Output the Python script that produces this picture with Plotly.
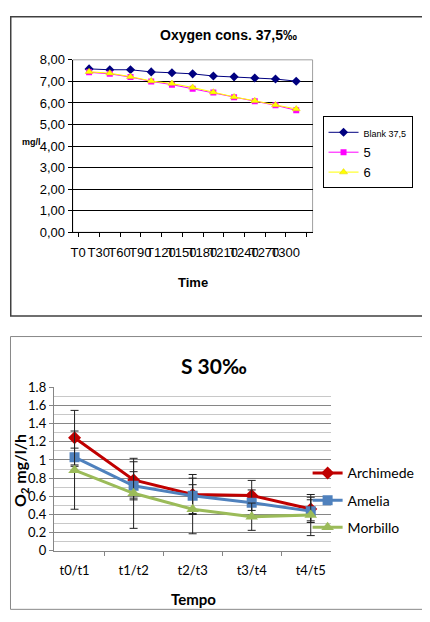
import plotly.graph_objects as go

# ==============================
# Data: top chart (Oxygen cons. 37,5‰)
# ==============================

times = ["T0", "T30", "T60", "T90", "T120", "T150", "T180", "T210", "T240", "T270", "T300"]
blank_375 = [7.58, 7.54, 7.54, 7.44, 7.40, 7.35, 7.25, 7.21, 7.16, 7.11, 7.01]
sample_5 = [7.42, 7.35, 7.20, 7.00, 6.85, 6.66, 6.48, 6.26, 6.08, 5.89, 5.66]
sample_6 = [7.45, 7.38, 7.22, 7.02, 6.90, 6.72, 6.50, 6.28, 6.10, 5.91, 5.72]
mg_ticks = [0, 1, 2, 3, 4, 5, 6, 7, 8]
mg_labels = [f"{v:.2f}".replace(".", ",") for v in mg_ticks]

# ==============================
# Data: bottom chart (S 30‰)
# ==============================

periods = ["t0/t1", "t1/t2", "t2/t3", "t3/t4", "t4/t5"]
archimede = [1.245, 0.78, 0.62, 0.61, 0.46]
archimede_err = [0.30, 0.20, 0.22, 0.165, 0.13]
amelia = [1.03, 0.716, 0.605, 0.53, 0.437]
amelia_err = [0.10, 0.155, 0.195, 0.14, 0.125]
morbillo = [0.888, 0.633, 0.458, 0.376, 0.394]
morbillo_err = [0.43, 0.385, 0.27, 0.15, 0.226]

W, H = 430, 622
OFF = 8  # page body margin: the figure lands 8px right/down in the window


def px_x(x):
    # x given in window pixels
    return (x - OFF) / W


def px_y(y):
    # y given in window pixels, from the top
    return 1 - (y - OFF) / H


fig = go.Figure()

# top chart traces
fig.add_trace(go.Scatter(x=times, y=blank_375, name="<span style='font-size:9px'>Blank 37,5</span>",
                         mode="lines+markers", line=dict(color="#000080", width=1),
                         marker=dict(symbol="diamond", size=7, color="#000080"),
                         xaxis="x", yaxis="y", legend="legend"))
fig.add_trace(go.Scatter(x=times, y=sample_5, name="5", mode="lines+markers",
                         line=dict(color="#FF00FF", width=1),
                         marker=dict(symbol="square", size=6, color="#FF00FF"),
                         xaxis="x", yaxis="y", legend="legend"))
fig.add_trace(go.Scatter(x=times, y=sample_6, name="6", mode="lines+markers",
                         line=dict(color="#FFFF00", width=1),
                         marker=dict(symbol="triangle-up", size=7, color="#FFFF00",
                                     line=dict(color="#E0D000", width=0.5)),
                         xaxis="x", yaxis="y", legend="legend"))

# bottom chart traces
err_style = dict(type="data", symmetric=True, color="#202020", thickness=1, width=4)
for name, vals, errs, color, symbol, size in [
    ("Archimede", archimede, archimede_err, "#C00000", "diamond", 10),
    ("Amelia", amelia, amelia_err, "#4F81BD", "square", 10),
    ("Morbillo", morbillo, morbillo_err, "#9BBB59", "triangle-up", 11),
]:
    fig.add_trace(go.Scatter(x=periods, y=vals, name=name, mode="lines+markers",
                             line=dict(color=color, width=3),
                             marker=dict(symbol=symbol, size=size, color=color),
                             error_y=dict(array=errs, **err_style),
                             xaxis="x2", yaxis="y2", legend="legend2", legendgroup=name))

top_font = "Liberation Sans, Arial, sans-serif"
bot_font = "Lato, Calibri, sans-serif"

fig.update_layout(
    width=W, height=H,
    margin=dict(l=0, r=0, t=0, b=0),
    paper_bgcolor="white", plot_bgcolor="white",
    xaxis=dict(domain=[px_x(71), px_x(312)], type="category", showgrid=False,
               showline=True, linecolor="black", linewidth=1,
               ticks="outside", tickson="boundaries", ticklen=4, tickcolor="black",
               tickangle=0, tickfont=dict(family=top_font, size=13, color="black"),
               ticklabelshift=-11, ticklabelstandoff=8, anchor="y", fixedrange=True),
    yaxis=dict(domain=[px_y(230), px_y(53)], range=[0, 8], tickvals=mg_ticks, ticktext=mg_labels,
               showgrid=True, gridcolor="black", gridwidth=1,
               showline=True, linecolor="black", linewidth=1,
               ticks="outside", ticklen=4, tickcolor="black",
               tickfont=dict(family=top_font, size=13, color="black"),
               zeroline=False, anchor="x", fixedrange=True),
    xaxis2=dict(domain=[px_x(52), px_x(331)], type="category", showgrid=False,
                showline=True, linecolor="#868686", linewidth=1,
                ticks="outside", tickson="boundaries", ticklen=4, tickcolor="#868686",
                tickangle=0, tickfont=dict(family=bot_font, size=13, color="black"),
                ticklabelstandoff=8, anchor="y2", fixedrange=True),
    yaxis2=dict(domain=[px_y(557), px_y(389)], range=[0, 1.8], dtick=0.2,
                showgrid=True, gridcolor="#868686", gridwidth=1,
                minor=dict(dtick=0.1, showgrid=True, gridcolor="#C8C8C8", gridwidth=1),
                showline=True, linecolor="#868686", linewidth=1,
                ticks="outside", ticklen=4, tickcolor="#868686",
                tickfont=dict(family=bot_font, size=13, color="black"),
                zeroline=False, anchor="x2", fixedrange=True),
    legend=dict(x=px_x(322), y=px_y(111), xanchor="left", yanchor="top",
                bordercolor="black", borderwidth=1, bgcolor="white",
                font=dict(family=top_font, size=13, color="black")),
    legend2=dict(x=px_x(307), y=px_y(461), xanchor="left", yanchor="top",
                 borderwidth=0, bgcolor="rgba(0,0,0,0)", tracegroupgap=6,
                 font=dict(family=bot_font, size=14, color="black")),
    showlegend=True,
)

# frames around the two charts (left/top edges as close to the window edge as possible)
fig.add_shape(type="rect", xref="paper", yref="paper",
              x0=px_x(8.75), x1=px_x(424), y0=px_y(316), y1=px_y(8.75),
              line=dict(color="#404040", width=1.5), layer="below")
fig.add_shape(type="rect", xref="paper", yref="paper",
              x0=px_x(8.5), x1=px_x(424), y0=px_y(617), y1=px_y(337),
              line=dict(color="#888888", width=1), layer="below")
fig.add_shape(type="rect", xref="x domain", yref="y domain", x0=0, x1=1, y0=0, y1=1,
              line=dict(color="#A0A0A0", width=1), layer="below")

# titles and axis labels (window pixel positions)
labels = [
    ("<b>Oxygen cons. 37,5‰</b>", 228, 27, top_font, 14, 0),
    ("<b>mg/l</b>", 30, 137, top_font, 9, 0),
    ("<b>Time</b>", 192, 282, top_font, 13, 0),
    ("<b>S 30‰</b>", 213, 367, bot_font, 21, 0),
    ("<b>Tempo</b>", 192, 606, bot_font, 15, 0),
    ("<b>O<sub>2</sub> mg/l/h</b>", 18, 474, bot_font, 16, -90),
]
for text, x, y, family, size, angle in labels:
    fig.add_annotation(text=text, x=px_x(x), y=px_y(y), xref="paper", yref="paper",
                       xanchor="center", yanchor="middle", showarrow=False, textangle=angle,
                       font=dict(family=family, size=size, color="black"))

fig.write_html("out.html")
